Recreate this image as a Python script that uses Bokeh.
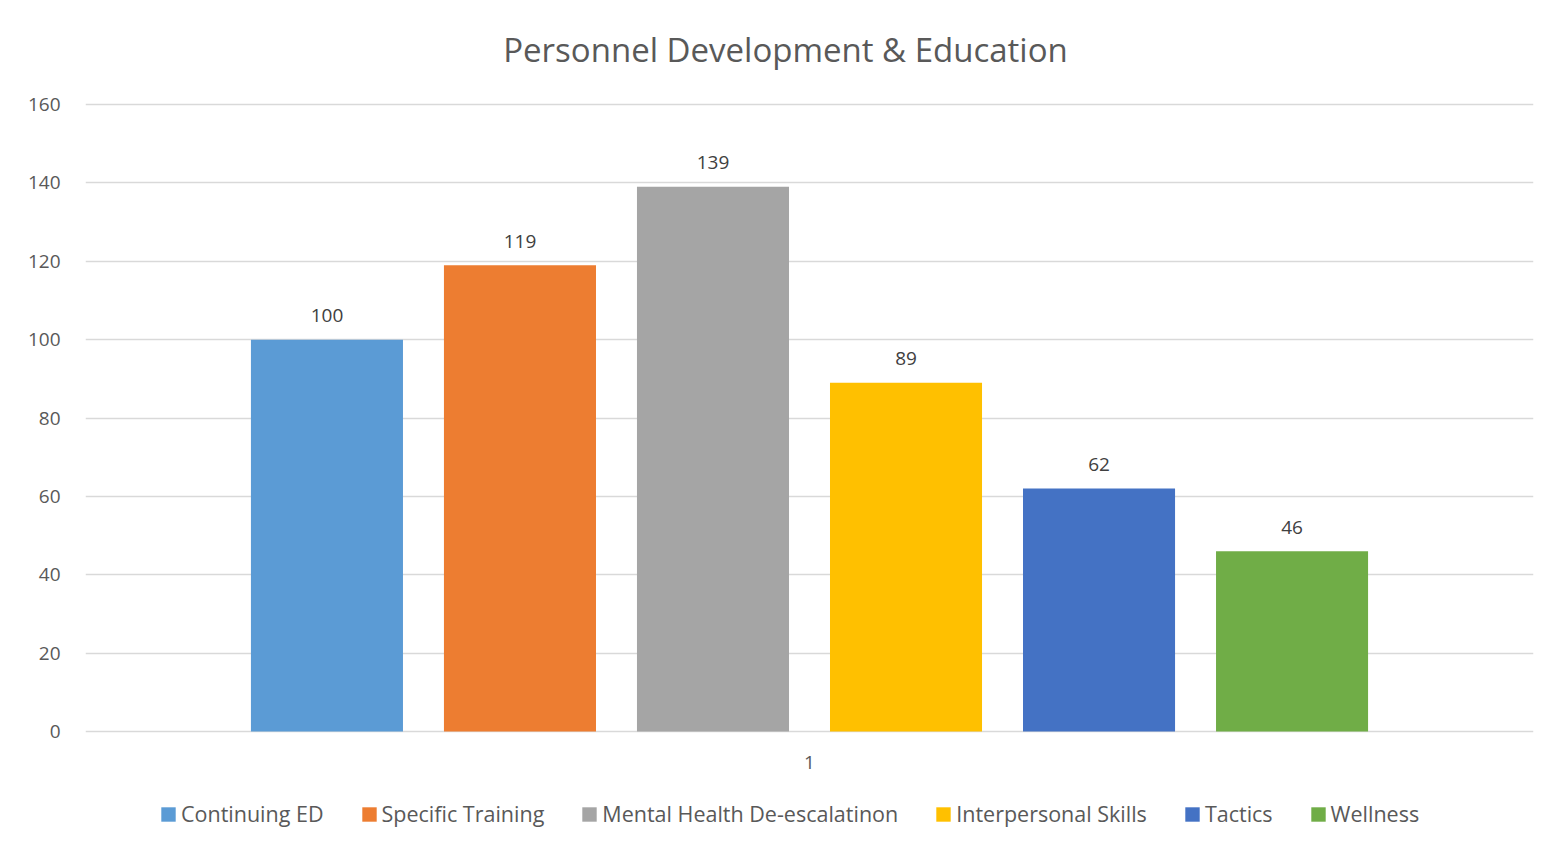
from bokeh.plotting import figure
from bokeh.models import FactorRange, Range1d, FixedTicker, Legend, LegendItem, ColumnDataSource
from bokeh.transform import dodge
from bokeh.core.properties import value
from bokeh.embed import file_html
from bokeh.resources import INLINE

title = "Personnel Development & Education"
categories = ["1"]
series = ["Continuing ED", "Specific Training", "Mental Health De-escalatinon",
          "Interpersonal Skills", "Tactics", "Wellness"]
values = [100, 119, 139, 89, 62, 46]
colors = ["#5B9BD5", "#ED7D31", "#A5A5A5", "#FFC000", "#4472C4", "#70AD47"]
y_ticks = [0, 20, 40, 60, 80, 100, 120, 140, 160]

FONT = "Open Sans"
TXT = "#595959"

# frame spans the full canvas height; 0 -> y=731px, 160 -> y=104px
px_per_unit = (731 - 104) / 160
y_top = 160 + 104 / px_per_unit
y_bot = -(850 - 731) / px_per_unit

p = figure(width=1557, height=850, x_range=FactorRange(*categories),
           y_range=Range1d(y_bot, y_top), output_backend="svg", toolbar_location=None,
           x_axis_location=None,
           min_border_left=85, min_border_right=24, min_border_top=0, min_border_bottom=0)

p.outline_line_color = None
p.background_fill_color = "white"
p.border_fill_color = "white"

p.xgrid.grid_line_color = None
p.ygrid.grid_line_color = "#D9D9D9"
p.ygrid.grid_line_width = 1.5
p.yaxis.ticker = FixedTicker(ticks=y_ticks)
p.yaxis.axis_line_color = None
p.yaxis.major_tick_line_color = None
p.yaxis.minor_tick_line_color = None
p.yaxis.major_label_text_font = FONT
p.yaxis.major_label_text_font_size = "19px"
p.yaxis.major_label_text_color = TXT
p.yaxis.major_label_standoff = 19

# title
p.text(x=categories, y=[y_ticks[-1]], text=[title], x_offset=-24, y_offset=-55,
       text_align="center", text_baseline="middle",
       text_font=value(FONT), text_font_size="33px", text_color=TXT)
# category label
p.text(x=categories, y=[0], text=categories, y_offset=31,
       text_align="center", text_baseline="middle",
       text_font=value(FONT), text_font_size="19px", text_color=TXT)

n = len(series)
step = 0.1333
bw = 0.105
items = []
for i, (s, v, c) in enumerate(zip(series, values, colors)):
    src = ColumnDataSource(dict(x=categories, top=[v], lab=[str(v)]))
    off = (i - (n - 1) / 2) * step
    r = p.vbar(x=dodge("x", off, range=p.x_range), top="top", width=bw, source=src,
               fill_color=c, line_color=None)
    p.text(x=dodge("x", off, range=p.x_range), y="top", text="lab", source=src,
           text_align="center", text_baseline="middle", y_offset=-24,
           text_font=value(FONT), text_font_size="19px", text_color="#404040")
    items.append(LegendItem(label=s, renderers=[r]))

legend = Legend(items=items, orientation="horizontal", location=(74, 22),
                label_text_font=FONT, label_text_font_size="21.5px", label_text_color=TXT,
                glyph_width=18, glyph_height=18, label_standoff=4, spacing=36,
                label_height=20, border_line_color=None, background_fill_alpha=0,
                margin=0, padding=0)
p.add_layout(legend, "center")

open("out.html", "w").write(file_html(p, INLINE))
